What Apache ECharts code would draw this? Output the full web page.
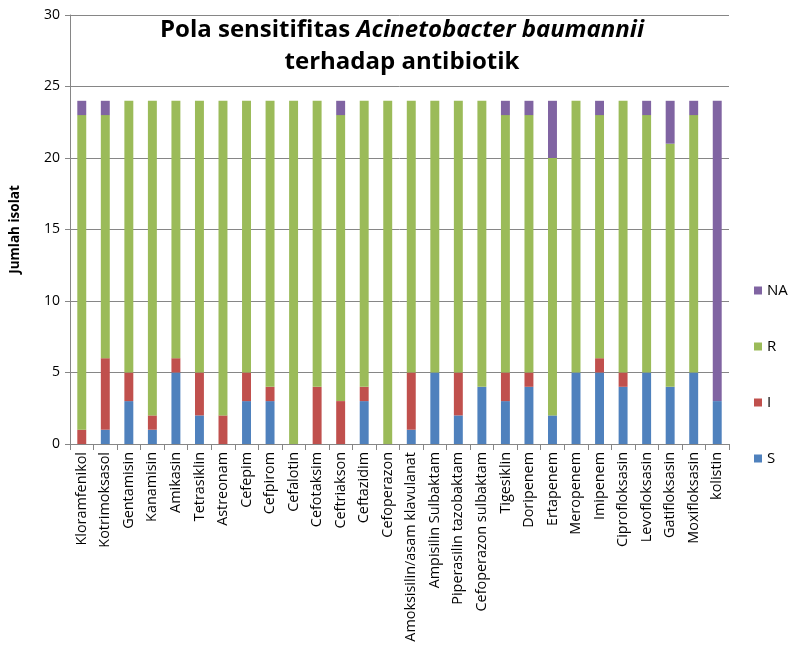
<!DOCTYPE html>
<html><head><meta charset="utf-8">
<script src="https://cdn.jsdelivr.net/npm/echarts@6/dist/echarts.min.js"></script>
<style>html,body{margin:0;padding:0;background:#fff}#c{width:793px;height:661px}</style>
</head><body><div id="c"></div>
<script>
const categories = ["Kloramfenikol","Kotrimoksasol","Gentamisin","Kanamisin","Amikasin","Tetrasiklin","Astreonam","Cefepim","Cefpirom","Cefalotin","Cefotaksim","Ceftriakson","Ceftazidim","Cefoperazon","Amoksisilin/asam klavulanat","Ampisilin Sulbaktam","Piperasilin tazobaktam","Cefoperazon sulbaktam","Tigesiklin","Doripenem","Ertapenem","Meropenem","Imipenem","Ciprofloksasin","Levofloksasin","Gatifloksasin","Moxifloksasin","kolistin"];
const S  = [0,1,3,1,5,2,0,3,3,0,0,0,3,0,1,5,2,4,3,4,2,5,5,4,5,4,5,3];
const I  = [1,5,2,1,1,3,2,2,1,0,4,3,1,0,4,0,3,0,2,1,0,0,1,1,0,0,0,0];
const R  = [22,17,19,22,18,19,22,19,20,24,20,20,20,24,19,19,19,20,18,18,18,19,17,19,18,17,18,0];
const NA = [1,1,0,0,0,0,0,0,0,0,0,1,0,0,0,0,0,0,1,1,4,0,1,0,1,3,1,21];
const yTicks = {min:0, max:30, interval:5};

const font = "Open Sans";
const chart = echarts.init(document.getElementById('c'));
function ser(name, data, color){
  return {name, type:'bar', stack:'t', data, barWidth:'38%', itemStyle:{color}};
}
chart.setOption({
  animation:false,
  textStyle:{fontFamily:font},
  title:{
    text:'{n|Pola sensitifitas }{i|Acinetobacter baumannii}\n{n|terhadap antibiotik}',
    left:397, top:9, textAlign:'center',
    textStyle:{rich:{
      n:{fontFamily:font,fontWeight:'bold',fontSize:24,color:'#000',lineHeight:32},
      i:{fontFamily:font,fontWeight:'bold',fontStyle:'italic',fontSize:24,color:'#000',lineHeight:32}
    }}
  },
  legend:{
    orient:'vertical', left:749, top:278, itemGap:41,
    itemWidth:8, itemHeight:8, icon:'rect',
    data:['NA','R','I','S'],
    textStyle:{fontFamily:font,fontSize:15,color:'#000'}
  },
  grid:{left:68, right:64, top:15, bottom:217},
  xAxis:{
    type:'category', data:categories,
    axisLine:{lineStyle:{color:'#868686'}},
    axisTick:{show:true, length:6, lineStyle:{color:'#868686'}},
    axisLabel:{rotate:90, interval:0, fontSize:14.4, color:'#000', fontFamily:font, margin:8}
  },
  yAxis:{
    type:'value', min:yTicks.min, max:yTicks.max, interval:yTicks.interval,
    name:'Jumlah isolat', nameLocation:'middle', nameGap:48,
    nameTextStyle:{fontFamily:font,fontWeight:'bold',fontSize:13.5,color:'#000'},
    axisLine:{show:true, lineStyle:{color:'#868686'}},
    axisTick:{show:true, length:5, lineStyle:{color:'#868686'}},
    splitLine:{lineStyle:{color:'#868686'}},
    axisLabel:{fontSize:14, color:'#000', fontFamily:font, margin:10}
  },
  series:[
    ser('S', S, '#4F81BD'),
    ser('I', I, '#C0504D'),
    ser('R', R, '#9BBB59'),
    ser('NA', NA, '#8064A2')
  ]
});
</script></body></html>
